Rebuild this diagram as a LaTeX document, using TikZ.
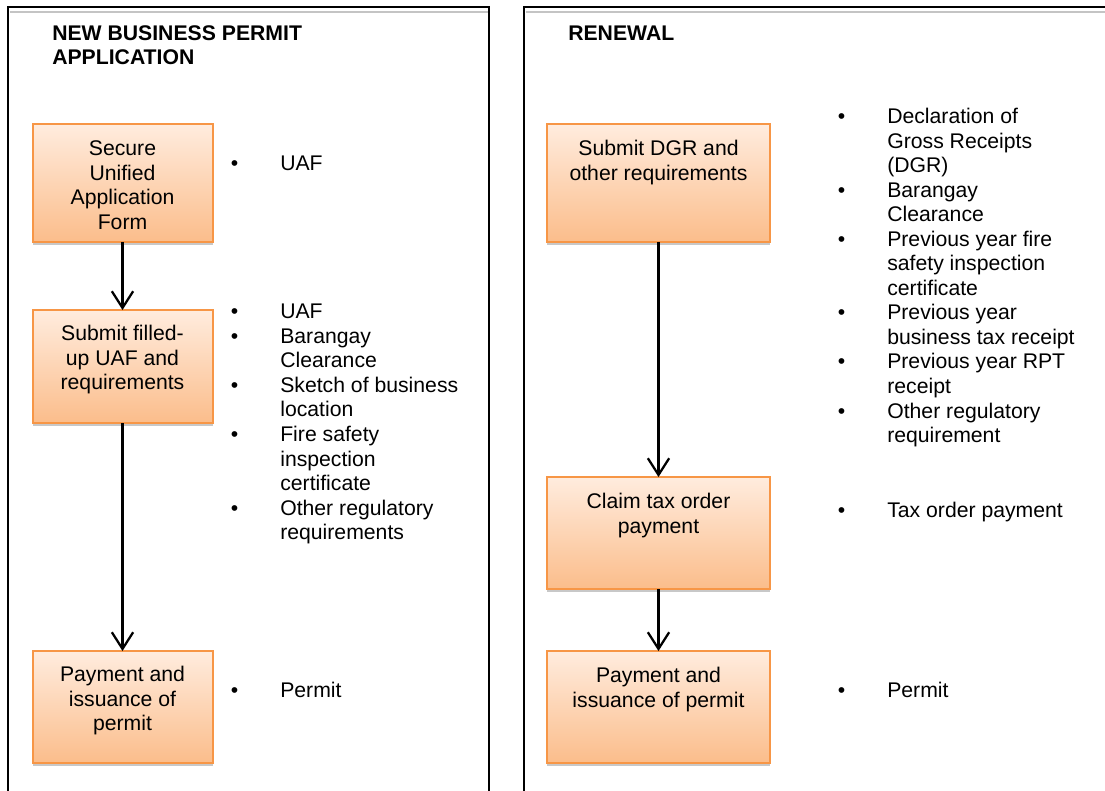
\documentclass[tikz,border=0pt]{standalone}
\usepackage{fontspec}
\setmainfont{Liberation Sans}
\usetikzlibrary{arrows.meta,calc,shadows}
\definecolor{boxline}{HTML}{F79646}
\definecolor{boxtop}{HTML}{FFECDE}
\definecolor{boxbot}{HTML}{FBBD8B}
\definecolor{shadowgray}{HTML}{C8C8C8}
\definecolor{panelgray}{HTML}{C4C4C4}
\begin{document}
\begin{tikzpicture}[x=0.75pt,y=-0.75pt,
  every node/.style={font=\fontsize{15.9}{18.4}\selectfont},
  fbox/.style={draw=boxline, line width=1.5pt, top color=boxtop, bottom color=boxbot,
    inner sep=0pt, outer sep=0pt,
    drop shadow={shadow xshift=0pt, shadow yshift=-2.6pt, fill=shadowgray, opacity=1}},
  lbox/.style={fbox, minimum width=135pt},
  rbox/.style={fbox, minimum width=167.25pt},
  btext/.style={align=center, inner sep=0pt, anchor=north},
  blist/.style={inner sep=0pt, anchor=north west},
  ttl/.style={inner sep=0pt, anchor=north west, align=left,
    font=\bfseries\fontsize{15.9}{18.4}\selectfont},
  panel/.style={line width=1.7pt, black},
  panelin/.style={line width=1.3pt, panelgray},
  arr/.style={line width=1.7pt, -{Straight Barb[length=12.5pt,width=16pt]}}
]
\useasboundingbox[fill=white] (0,0) rectangle (1105,791);

% panels
\draw[panel] (8,791) -- (8,7) -- (489,7) -- (489,791);
\draw[panelin] (9.5,11.8) -- (487.5,11.8);
\draw[panel] (524,791) -- (524,7) -- (1105,7);
\draw[panelin] (525.5,11.8) -- (1105,11.8);

% titles
\node[ttl] (t1) at (52,22.9) {\strut NEW BUSINESS PERMIT\\APPLICATION};
\node[ttl] (t2) at (568,23.4) {\strut RENEWAL};

% left boxes
\node[lbox, minimum height=88.5pt] (L1) at (122.5,183) {};
\node[lbox, minimum height=84.75pt] (L2) at (122.5,366.5) {};
\node[lbox, minimum height=84pt] (L3) at (122.5,707) {};
% right boxes
\node[rbox, minimum height=88.5pt] (R1) at (658.5,183) {};
\node[rbox, minimum height=84pt] (R2) at (658.5,533) {};
\node[rbox, minimum height=84pt] (R3) at (658.5,707) {};

% box texts
\node[btext] (L1t) at ($(L1.north)+(0,14.4)$) {\strut Secure\\Unified\\Application\\Form};
\node[btext] (L2t) at ($(L2.north)+(0,13.4)$) {\strut Submit filled-\\up UAF and\\requirements};
\node[btext] (L3t) at ($(L3.north)+(0,13.4)$) {\strut Payment and\\issuance of\\permit};
\node[btext] (R1t) at ($(R1.north)+(0,14.4)$) {\strut Submit DGR and\\other requirements};
\node[btext] (R2t) at ($(R2.north)+(0,14.4)$) {\strut Claim tax order\\payment};
\node[btext] (R3t) at ($(R3.north)+(0,14.4)$) {\strut Payment and\\issuance of permit};

% arrows
\draw[arr] (L1.south) -- (L2.north);
\draw[arr] (L2.south) -- (L3.north);
\draw[arr] (R1.south) -- (R2.north);
\draw[arr] (R2.south) -- (R3.north);

% left lists
\node[blist] (la) at (230.7,153.4) {\begin{tabular}{@{}l@{}l@{}}
\makebox[37pt][l]{•} & UAF\end{tabular}};
\node[blist] (lb) at (230.7,301.4) {\begin{tabular}{@{}l@{}l@{}}
\makebox[37pt][l]{•} & UAF\\
• & Barangay\\
  & Clearance\\
• & Sketch of business\\
  & location\\
• & Fire safety\\
  & inspection\\
  & certificate\\
• & Other regulatory\\
  & requirements\end{tabular}};
\node[blist] (lc) at (230.7,680.4) {\begin{tabular}{@{}l@{}l@{}}
\makebox[37pt][l]{•} & Permit\end{tabular}};

% right lists
\node[blist] (ra) at (837.7,106.2) {\begin{tabular}{@{}l@{}l@{}}
\makebox[37pt][l]{•} & Declaration of\\
  & Gross Receipts\\
  & (DGR)\\
• & Barangay\\
  & Clearance\\
• & Previous year fire\\
  & safety inspection\\
  & certificate\\
• & Previous year\\
  & business tax receipt\\
• & Previous year RPT\\
  & receipt\\
• & Other regulatory\\
  & requirement\end{tabular}};
\node[blist] (rb) at (837.7,500.4) {\begin{tabular}{@{}l@{}l@{}}
\makebox[37pt][l]{•} & Tax order payment\end{tabular}};
\node[blist] (rc) at (837.7,680.4) {\begin{tabular}{@{}l@{}l@{}}
\makebox[37pt][l]{•} & Permit\end{tabular}};
\end{tikzpicture}
\end{document}
